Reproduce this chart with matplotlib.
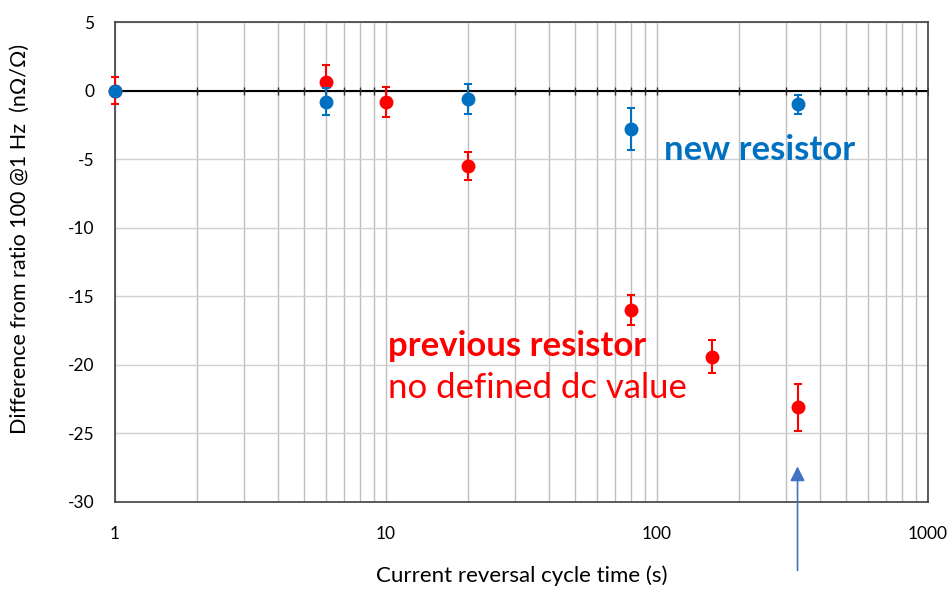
import matplotlib.pyplot as plt
import numpy as np

plt.rcParams['font.family'] = ['Lato', 'DejaVu Sans']
plt.rcParams['axes.unicode_minus'] = False

# cycle times (s)
t_new = [1, 6, 20, 80, 330]
d_new = [0.0, -0.8, -0.6, -2.8, -1.0]
e_new = [0.0, 1.0, 1.1, 1.5, 0.7]

t_old = [1, 6, 10, 20, 80, 160, 330]
d_old = [0.0, 0.6, -0.85, -5.5, -16.0, -19.4, -23.1]
e_old = [1.0, 1.3, 1.1, 1.05, 1.07, 1.2, 1.7]

x_ticks = [1, 10, 100, 1000]
y_ticks = [5, 0, -5, -10, -15, -20, -25, -30]

blue = '#0070C0'
red = '#FF0000'

fig = plt.figure(figsize=(9.52, 5.90), dpi=100)
ax = fig.add_axes([0.1208, 0.1492, 0.854, 0.8135])
ax.set_xscale('log')
ax.set_xlim(1, 1000)
ax.set_ylim(-30, 5)

ax.grid(True, which='both', axis='x', color='#BFBFBF', lw=1)
ax.grid(True, which='major', axis='y', color='#D0D0D0', lw=1)
ax.set_axisbelow(True)

# zero line with small crossing tick marks (Excel style)
ax.axhline(0, color='black', lw=1.5, zorder=2)
tpos = np.outer([1, 10, 100], np.arange(1, 10)).ravel()
tpos = np.append(tpos, 1000)
ax.plot(tpos, np.zeros_like(tpos), ls='none', marker='|', ms=6, mew=1, color='#303030', zorder=2)

ax.errorbar(t_old, d_old, yerr=e_old, fmt='o', color=red, ms=9, capsize=3, elinewidth=1.5,
            capthick=1.5, zorder=3, clip_on=False)
ax.errorbar(t_new, d_new, yerr=e_new, fmt='o', color=blue, ms=9, capsize=3, elinewidth=1.5,
            capthick=1.5, zorder=4, clip_on=False)

ax.set_xticks(x_ticks)
ax.set_xticklabels([str(v) for v in x_ticks])
ax.set_yticks(y_ticks)
ax.tick_params(axis='x', which='both', length=0, pad=17, labelsize=12.5)
ax.tick_params(axis='y', length=0, pad=15, labelsize=12.5)
for s in ax.spines.values():
    s.set_color('#404040')
    s.set_linewidth(1.2)

ax.set_xlabel('Current reversal cycle time (s)', fontsize=16, labelpad=17)
ax.set_ylabel('Difference from ratio 100 @1 Hz  (n\u03a9/\u03a9)', fontsize=15.5)
ax.yaxis.set_label_coords(-0.105, 0.548)

ax.text(0.675, 0.733, 'new resistor', transform=ax.transAxes, color=blue, fontsize=25, fontweight='bold', va='center')
ax.text(0.336, 0.325, 'previous resistor', transform=ax.transAxes, color=red, fontsize=25, fontweight='bold', va='center')
ax.text(0.336, 0.2375, 'no defined dc value', transform=ax.transAxes, color=red, fontsize=25, va='center')

ax.annotate('', xy=(t_new[-1], -27.2), xytext=(t_new[-1], -35.2), annotation_clip=False,
            arrowprops=dict(arrowstyle='-|>', color='#4472C4', lw=1.2, mutation_scale=22))

fig.savefig('out.png', dpi=100)
